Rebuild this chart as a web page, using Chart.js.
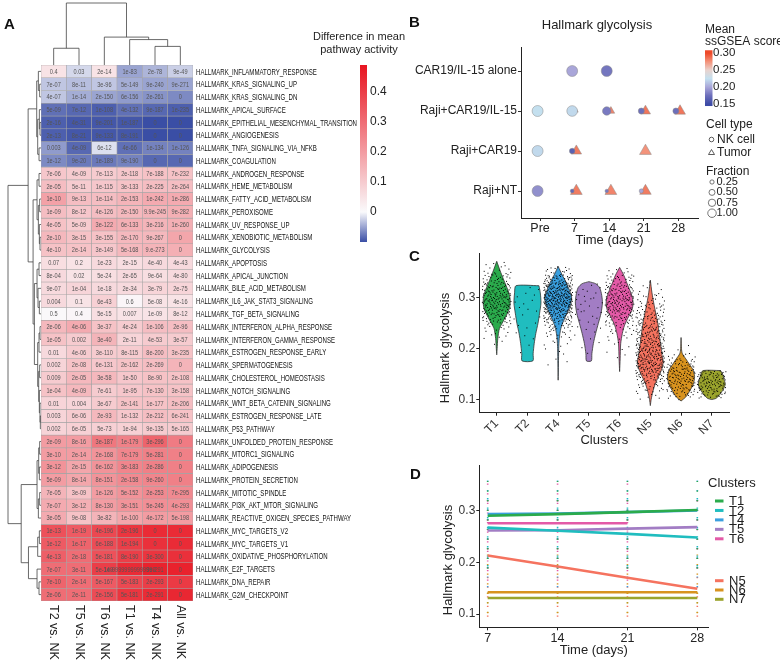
<!DOCTYPE html>
<html>
<head>
<meta charset="utf-8">
<script src="https://cdn.jsdelivr.net/npm/chart.js@4.4.1/dist/chart.umd.min.js"></script>
<style>
  html, body { margin: 0; padding: 0; background: #fff; }
  #wrap { position: relative; width: 780px; height: 660px; overflow: hidden; }
  canvas { position: absolute; }
</style>
</head>
<body>
<div id="wrap">
  <canvas id="chartA" width="410" height="660" style="left:0;top:0;width:410px;height:660px"></canvas>
  <canvas id="chartB" width="380" height="250" style="left:400px;top:0;width:380px;height:250px"></canvas>
  <canvas id="chartC" width="380" height="210" style="left:400px;top:245px;width:380px;height:210px"></canvas>
  <canvas id="chartD" width="380" height="205" style="left:400px;top:455px;width:380px;height:205px"></canvas>
</div>
<script>
const FONT = '"Liberation Sans", Arial, Helvetica, sans-serif';
Chart.defaults.font.family = FONT;
Chart.defaults.color = '#222';

// ---------- panel A data ----------
const pathways = [
  'HALLMARK_INFLAMMATORY_RESPONSE', 'HALLMARK_KRAS_SIGNALING_UP', 'HALLMARK_KRAS_SIGNALING_DN',
  'HALLMARK_APICAL_SURFACE', 'HALLMARK_EPITHELIAL_MESENCHYMAL_TRANSITION', 'HALLMARK_ANGIOGENESIS',
  'HALLMARK_TNFA_SIGNALING_VIA_NFKB', 'HALLMARK_COAGULATION', 'HALLMARK_ANDROGEN_RESPONSE',
  'HALLMARK_HEME_METABOLISM', 'HALLMARK_FATTY_ACID_METABOLISM', 'HALLMARK_PEROXISOME',
  'HALLMARK_UV_RESPONSE_UP', 'HALLMARK_XENOBIOTIC_METABOLISM', 'HALLMARK_GLYCOLYSIS',
  'HALLMARK_APOPTOSIS', 'HALLMARK_APICAL_JUNCTION', 'HALLMARK_BILE_ACID_METABOLISM',
  'HALLMARK_IL6_JAK_STAT3_SIGNALING', 'HALLMARK_TGF_BETA_SIGNALING', 'HALLMARK_INTERFERON_ALPHA_RESPONSE',
  'HALLMARK_INTERFERON_GAMMA_RESPONSE', 'HALLMARK_ESTROGEN_RESPONSE_EARLY', 'HALLMARK_SPERMATOGENESIS',
  'HALLMARK_CHOLESTEROL_HOMEOSTASIS', 'HALLMARK_NOTCH_SIGNALING', 'HALLMARK_WNT_BETA_CATENIN_SIGNALING',
  'HALLMARK_ESTROGEN_RESPONSE_LATE', 'HALLMARK_P53_PATHWAY', 'HALLMARK_UNFOLDED_PROTEIN_RESPONSE',
  'HALLMARK_MTORC1_SIGNALING', 'HALLMARK_ADIPOGENESIS', 'HALLMARK_PROTEIN_SECRETION',
  'HALLMARK_MITOTIC_SPINDLE', 'HALLMARK_PI3K_AKT_MTOR_SIGNALING', 'HALLMARK_REACTIVE_OXIGEN_SPECIES_PATHWAY',
  'HALLMARK_MYC_TARGETS_V2', 'HALLMARK_MYC_TARGETS_V1', 'HALLMARK_OXIDATIVE_PHOSPHORYLATION',
  'HALLMARK_E2F_TARGETS', 'HALLMARK_DNA_REPAIR', 'HALLMARK_G2M_CHECKPOINT'
];
const comparisons = ['T2 vs. NK', 'T5 vs. NK', 'T6 vs. NK', 'T1 vs. NK', 'T4 vs. NK', 'All vs. NK'];

// difference in mean pathway activity
const meanDiff = [
  [0.05, -0.02, 0.05, -0.05, -0.04, -0.025],
  [-0.03, -0.035, -0.03, -0.045, -0.05, -0.05],
  [-0.03, -0.045, -0.05, -0.055, -0.06, -0.065],
  [-0.08, -0.085, -0.09, -0.08, -0.085, -0.09],
  [-0.09, -0.095, -0.095, -0.095, -0.1, -0.1],
  [-0.09, -0.095, -0.095, -0.095, -0.1, -0.1],
  [-0.055, -0.085, -0.015, -0.08, -0.07, -0.07],
  [-0.065, -0.075, -0.075, -0.07, -0.085, -0.085],
  [0.11, 0.1, 0.1, 0.11, 0.12, 0.12],
  [0.13, 0.1, 0.11, 0.12, 0.13, 0.13],
  [0.19, 0.13, 0.13, 0.15, 0.17, 0.17],
  [0.13, 0.11, 0.13, 0.14, 0.15, 0.16],
  [0.12, 0.1, 0.17, 0.16, 0.15, 0.16],
  [0.14, 0.12, 0.12, 0.14, 0.14, 0.18],
  [0.12, 0.12, 0.11, 0.14, 0.15, 0.16],
  [0.06, 0.05, 0.07, 0.06, 0.07, 0.07],
  [0.07, 0.05, 0.06, 0.07, 0.06, 0.07],
  [0.07, 0.08, 0.07, 0.07, 0.08, 0.08],
  [0.07, 0.05, 0.09, 0.01, 0.05, 0.05],
  [0.005, 0.01, 0.06, 0.05, 0.05, 0.06],
  [0.14, 0.17, 0.12, 0.1, 0.13, 0.13],
  [0.12, 0.1, 0.15, 0.08, 0.1, 0.1],
  [0.07, 0.1, 0.1, 0.1, 0.13, 0.12],
  [0.08, 0.12, 0.11, 0.12, 0.13, 0.15],
  [0.1, 0.14, 0.14, 0.11, 0.12, 0.12],
  [0.12, 0.14, 0.1, 0.11, 0.12, 0.12],
  [0.08, 0.08, 0.1, 0.12, 0.12, 0.13],
  [0.08, 0.1, 0.14, 0.11, 0.13, 0.12],
  [0.08, 0.09, 0.09, 0.09, 0.1, 0.1],
  [0.2, 0.2, 0.28, 0.26, 0.32, 0.27],
  [0.2, 0.2, 0.22, 0.25, 0.26, 0.26],
  [0.22, 0.18, 0.22, 0.25, 0.26, 0.26],
  [0.2, 0.18, 0.22, 0.24, 0.25, 0.26],
  [0.15, 0.12, 0.2, 0.22, 0.24, 0.24],
  [0.17, 0.16, 0.2, 0.22, 0.23, 0.23],
  [0.17, 0.12, 0.15, 0.18, 0.2, 0.2],
  [0.36, 0.34, 0.38, 0.42, 0.44, 0.44],
  [0.34, 0.32, 0.37, 0.4, 0.43, 0.44],
  [0.33, 0.3, 0.36, 0.4, 0.42, 0.43],
  [0.3, 0.3, 0.4, 0.44, 0.46, 0.46],
  [0.32, 0.3, 0.34, 0.38, 0.4, 0.41],
  [0.3, 0.3, 0.37, 0.42, 0.44, 0.45]
];

// p-values printed in the cells
const pvalLabels = [
  ['0.4', '0.03', '2e-14', '1e-83', '2e-78', '9e-49'],
  ['7e-07', '8e-11', '3e-96', '5e-149', '9e-240', '9e-271'],
  ['4e-07', '1e-14', '2e-150', '6e-156', '2e-261', '0'],
  ['5e-09', '7e-12', '1e-108', '4e-132', '9e-187', '1e-235'],
  ['2e-16', '4e-31', '9e-201', '1e-187', '0', '0'],
  ['2e-13', '8e-21', '9e-133', '8e-191', '0', '0'],
  ['0.003', '4e-09', '6e-12', '4e-66', '1e-134', '1e-126'],
  ['1e-12', '9e-20', '1e-189', '9e-190', '0', '0'],
  ['7e-06', '4e-09', '7e-113', '2e-118', '7e-188', '7e-232'],
  ['2e-05', '5e-11', '1e-115', '3e-133', '2e-225', '2e-264'],
  ['1e-10', '9e-13', '1e-114', '2e-153', '1e-242', '1e-286'],
  ['1e-09', '8e-12', '4e-126', '2e-150', '9.9e-245', '9e-282'],
  ['4e-05', '5e-09', '3e-122', '6e-133', '3e-216', '1e-260'],
  ['2e-10', '3e-15', '3e-155', '2e-170', '9e-267', '0'],
  ['4e-10', '2e-14', '3e-149', '5e-168', '9.e-273', '0'],
  ['0.07', '0.2', '1e-23', '2e-15', '4e-40', '4e-43'],
  ['8e-04', '0.02', '5e-24', '2e-65', '9e-64', '4e-80'],
  ['9e-07', '1e-04', '1e-18', '2e-34', '3e-79', '2e-75'],
  ['0.004', '0.1', '6e-43', '0.6', '5e-08', '4e-16'],
  ['0.5', '0.4', '5e-15', '0.007', '1e-09', '8e-12'],
  ['2e-06', '4e-06', '3e-37', '4e-24', '1e-106', '2e-96'],
  ['1e-05', '0.002', '3e-40', '2e-11', '4e-53', '3e-57'],
  ['0.01', '4e-06', '3e-110', '8e-115', '8e-200', '3e-235'],
  ['0.002', '2e-08', '6e-131', '2e-162', '2e-269', '0'],
  ['0.009', '2e-05', '3e-58', '1e-50', '8e-90', '2e-108'],
  ['1e-04', '4e-09', '7e-61', '1e-95', '7e-130', '3e-158'],
  ['0.01', '0.004', '3e-67', '2e-141', '1e-177', '2e-206'],
  ['0.003', '6e-06', '2e-93', '1e-132', '2e-212', '6e-241'],
  ['0.002', '6e-05', '5e-73', '1e-94', '9e-135', '5e-165'],
  ['2e-09', '8e-16', '3e-187', '1e-179', '3e-296', '0'],
  ['3e-10', '2e-14', '2e-168', '7e-179', '5e-281', '0'],
  ['3e-12', '2e-15', '6e-162', '3e-183', '2e-286', '0'],
  ['5e-09', '8e-14', '8e-151', '2e-158', '9e-260', '0'],
  ['7e-05', '3e-09', '1e-126', '5e-152', '2e-253', '7e-295'],
  ['7e-07', '3e-12', '8e-130', '3e-151', '5e-245', '4e-293'],
  ['3e-05', '9e-08', '3e-82', '1e-100', '4e-172', '5e-198'],
  ['1e-13', '1e-19', '4e-196', '2e-196', '0', '0'],
  ['1e-12', '1e-17', '6e-188', '1e-194', '0', '0'],
  ['4e-13', '2e-18', '5e-181', '8e-190', '3e-300', '0'],
  ['7e-07', '3e-11', '5e-149', '1e-99999999999999', '9e-291', '0'],
  ['7e-10', '2e-14', '5e-167', '5e-183', '2e-293', '0'],
  ['2e-06', '2e-11', '2e-156', '5e-181', '2e-291', '0']
];

// dendrograms: [height, left, right], leaves are row / column indices
const rowTree = [1,
  [0.39,
    [0.13, [0.08, 0, [0.04, 1, 2]], [0.1, [0.05, 3, [0.03, 4, 5]], [0.06, 6, 7]]],
    [0.24,
      [0.12, [0.06, 8, 9], [0.08, [0.04, 10, 11], [0.05, 12, [0.03, 13, 14]]]],
      [0.2, [0.12, [0.06, 15, 16], [0.09, 17, [0.05, 18, 19]]],
            [0.1, [0.06, [0.03, 20, 21], 22], [0.07, [0.04, 23, 24], [0.05, 25, [0.03, 26, [0.02, 27, 28]]]]]]]],
  [0.6,
    [0.12, [0.07, [0.04, 29, 30], [0.05, 31, 32]], [0.08, [0.04, 33, 34], 35]],
    [0.38, [0.1, [0.05, 36, 37], 38], [0.12, 39, [0.06, 40, 41]]]]
];
const colTree = [1, [0.27, 0, 1], [0.45, 2, [0.41, 3, [0.3, 4, 5]]]];
const heatTicks = [0, 0.1, 0.2, 0.3, 0.4];

// ---------- panel B data ----------
const conditions = ['CAR19/IL-15 alone', 'Raji+CAR19/IL-15', 'Raji+CAR19', 'Raji+NT'];
const timepoints = ['Pre', '7', '14', '21', '28'];
// [condition, time, mean ssGSEA score, fraction]
const nkCells = [
  ['CAR19/IL-15 alone', '7', 0.20, 1.0], ['CAR19/IL-15 alone', '14', 0.178, 1.0],
  ['Raji+CAR19/IL-15', 'Pre', 0.225, 1.0], ['Raji+CAR19/IL-15', '7', 0.222, 0.95],
  ['Raji+CAR19/IL-15', '14', 0.18, 0.6], ['Raji+CAR19/IL-15', '21', 0.175, 0.3],
  ['Raji+CAR19/IL-15', '28', 0.175, 0.3],
  ['Raji+CAR19', 'Pre', 0.222, 1.0], ['Raji+CAR19', '7', 0.165, 0.25],
  ['Raji+NT', 'Pre', 0.19, 1.0], ['Raji+NT', '7', 0.17, 0.12],
  ['Raji+NT', '14', 0.18, 0.1], ['Raji+NT', '21', 0.2, 0.15]
];
const tumorCells = [
  ['Raji+CAR19/IL-15', '7', 0.27, 0.1], ['Raji+CAR19/IL-15', '14', 0.28, 0.4],
  ['Raji+CAR19/IL-15', '21', 0.285, 0.7], ['Raji+CAR19/IL-15', '28', 0.285, 0.8],
  ['Raji+CAR19', '7', 0.283, 0.75], ['Raji+CAR19', '21', 0.275, 0.95],
  ['Raji+NT', '7', 0.283, 0.95], ['Raji+NT', '14', 0.28, 0.95], ['Raji+NT', '21', 0.283, 0.9]
];
const scoreStops = [0.15, 0.175, 0.2, 0.225, 0.25, 0.275, 0.30];
const scoreColors = ['#3d4ba6', '#6d6fbb', '#a9a6d9', '#c4e0ef', '#e9d3ce', '#f3937b', '#ee4a2a'];
const scoreTicks = [0.30, 0.25, 0.20, 0.15];
const fractionTicks = [0.25, 0.5, 0.75, 1.0];

// ---------- panels C and D data ----------
const clusters = ['T1', 'T2', 'T4', 'T5', 'T6', 'N5', 'N6', 'N7'];
const clusterColors = ['#2bab4c', '#20bdbf', '#3a9fde', '#a27dc4', '#e35aa7', '#f5735f', '#d8931f', '#9ba42d'];
const cellCounts = [240, 22, 420, 36, 230, 420, 160, 120];
// violin outlines: [hallmark glycolysis, relative half width]
const violinT1 = [[0.372, 0], [0.35, 0.3], [0.33, 0.6], [0.31, 0.9], [0.295, 1], [0.28, 0.95], [0.265, 0.7], [0.25, 0.4], [0.24, 0.2], [0.22, 0.08], [0.2, 0.03], [0.188, 0]];
const violinT2 = [[0.324, 0.85], [0.31, 0.95], [0.29, 1], [0.27, 0.9], [0.25, 0.78], [0.23, 0.62], [0.21, 0.5], [0.19, 0.42], [0.176, 0.4]];
const violinT4 = [[0.362, 0], [0.345, 0.3], [0.33, 0.6], [0.31, 0.9], [0.3, 1], [0.285, 0.9], [0.27, 0.65], [0.255, 0.4], [0.24, 0.2], [0.22, 0.08], [0.2, 0.04], [0.17, 0.02], [0.138, 0]];
const violinT5 = [[0.332, 0], [0.328, 0.5], [0.32, 0.8], [0.305, 0.95], [0.29, 1], [0.27, 0.9], [0.25, 0.7], [0.23, 0.5], [0.21, 0.33], [0.19, 0.22], [0.176, 0.18]];
const violinT6 = [[0.36, 0], [0.345, 0.3], [0.325, 0.6], [0.305, 0.9], [0.29, 1], [0.275, 0.9], [0.26, 0.6], [0.245, 0.35], [0.23, 0.2], [0.21, 0.08], [0.18, 0.04], [0.155, 0]];
const violinN5 = [[0.335, 0], [0.31, 0.12], [0.29, 0.25], [0.27, 0.4], [0.25, 0.55], [0.23, 0.65], [0.21, 0.75], [0.19, 0.85], [0.175, 0.95], [0.16, 0.85], [0.145, 0.6], [0.13, 0.35], [0.115, 0.18], [0.1, 0.06], [0.088, 0]];
const violinN6 = [[0.222, 0], [0.2, 0.03], [0.19, 0.1], [0.18, 0.35], [0.17, 0.6], [0.16, 0.85], [0.145, 1], [0.13, 0.9], [0.115, 0.6], [0.105, 0.35], [0.097, 0]];
const violinN7 = [[0.157, 0.65], [0.15, 0.8], [0.14, 0.9], [0.13, 1], [0.12, 0.85], [0.11, 0.6], [0.102, 0.3], [0.1, 0]];
const violins = [violinT1, violinT2, violinT4, violinT5, violinT6, violinN5, violinN6, violinN7];

const days = [7, 14, 21, 28];
const trendT1 = [0.290, 0.293, 0.297, 0.301];
const trendT2 = [0.267, 0.261, 0.255, 0.248];
const trendT4 = [0.293, 0.294, 0.297, 0.300];
const trendT5 = [0.2615, 0.262, 0.265, 0.268];
const trendT6 = [0.2755, 0.2755, 0.2755, null];
const trendN5 = [0.213, 0.192, 0.170, 0.149];
const trendN6 = [0.142, 0.142, 0.142, 0.142];
const trendN7 = [0.131, 0.131, 0.131, 0.131];
const trends = [trendT1, trendT2, trendT4, trendT5, trendT6, trendN5, trendN6, trendN7];

// ---------- helpers ----------
function mixRgb(a, b, t) {
  return 'rgb(' + a.map((c, i) => Math.round(c + (b[i] - c) * t)).join(',') + ')';
}
function heatColor(v) {
  if (v >= 0) return mixRgb([250, 250, 252], [232, 20, 32], Math.min(v / 0.49, 1));
  return mixRgb([250, 250, 252], [58, 78, 165], Math.min(-v / 0.1, 1));
}
function hexRgb(h) { return [1, 3, 5].map(i => parseInt(h.slice(i, i + 2), 16)); }
function scoreColor(s) {
  if (s <= scoreStops[0]) return scoreColors[0];
  for (let i = 1; i < scoreStops.length; i++) {
    if (s <= scoreStops[i]) {
      const t = (s - scoreStops[i - 1]) / (scoreStops[i] - scoreStops[i - 1]);
      return mixRgb(hexRgb(scoreColors[i - 1]), hexRgb(scoreColors[i]), t);
    }
  }
  return scoreColors[scoreColors.length - 1];
}
function panelLetter(ctx, letter, x, y) {
  ctx.save();
  ctx.font = 'bold 15px ' + FONT;
  ctx.fillStyle = '#111';
  ctx.textAlign = 'left';
  ctx.textBaseline = 'middle';
  ctx.fillText(letter, x, y);
  ctx.restore();
}
function vText(ctx, text, x, y, font) {
  ctx.save();
  ctx.font = font;
  ctx.translate(x, y);
  ctx.rotate(-Math.PI / 2);
  ctx.textAlign = 'center';
  ctx.textBaseline = 'middle';
  ctx.fillText(text, 0, 0);
  ctx.restore();
}

// ---------- panel A ----------
function drawTree(ctx, node, leafPos, heightPos, alongX) {
  if (typeof node === 'number') return [leafPos(node), heightPos(0)];
  const [h, a, b] = node;
  const A = drawTree(ctx, a, leafPos, heightPos, alongX);
  const B = drawTree(ctx, b, leafPos, heightPos, alongX);
  const hp = heightPos(h);
  ctx.beginPath();
  if (alongX) {
    ctx.moveTo(A[1], A[0]); ctx.lineTo(hp, A[0]); ctx.lineTo(hp, B[0]); ctx.lineTo(B[1], B[0]);
  } else {
    ctx.moveTo(A[0], A[1]); ctx.lineTo(A[0], hp); ctx.lineTo(B[0], hp); ctx.lineTo(B[0], B[1]);
  }
  ctx.stroke();
  return [(A[0] + B[0]) / 2, hp];
}

const heatDecor = {
  id: 'heatDecor',
  afterDatasetsDraw(chart) {
    const { ctx, chartArea: area, scales } = chart;
    ctx.save();

    // p-values in the cells
    ctx.fillStyle = '#555';
    ctx.font = '7px ' + FONT;
    ctx.textAlign = 'center';
    ctx.textBaseline = 'middle';
    pathways.forEach((p, r) => {
      chart.getDatasetMeta(r).data.forEach((el, c) => {
        ctx.save();
        ctx.translate(el.x, (el.y + el.base) / 2 + 0.5);
        ctx.scale(0.8, 1);
        ctx.fillText(pvalLabels[r][c], 0, 0);
        ctx.restore();
      });
    });

    // pathway names (condensed)
    ctx.fillStyle = '#111';
    ctx.font = '9.5px ' + FONT;
    ctx.textAlign = 'left';
    const longest = Math.max(...pathways.map(p => ctx.measureText(p).width));
    const k = 161 / longest;
    pathways.forEach((p, r) => {
      ctx.save();
      ctx.translate(area.right + 3, scales.y.getPixelForValue(r + 0.5) + 0.5);
      ctx.scale(k, 1);
      ctx.fillText(p, 0, 0);
      ctx.restore();
    });

    // comparison names
    ctx.font = '12.5px ' + FONT;
    ctx.fillStyle = '#222';
    comparisons.forEach((c, i) => {
      ctx.save();
      ctx.translate(scales.x.getPixelForValue(i), area.bottom + 4);
      ctx.rotate(Math.PI / 2);
      ctx.textAlign = 'left';
      ctx.fillText(c, 0, 0);
      ctx.restore();
    });

    // dendrograms
    ctx.strokeStyle = '#444';
    ctx.lineWidth = 0.8;
    drawTree(ctx, rowTree, r => scales.y.getPixelForValue(r + 0.5), h => area.left - h * 33, true);
    drawTree(ctx, colTree, c => scales.x.getPixelForValue(c), h => area.top - h * 62, false);

    // colour legend
    ctx.fillStyle = '#222';
    ctx.font = '11px ' + FONT;
    ctx.textAlign = 'center';
    ctx.fillText('Difference in mean', 359, 37);
    ctx.fillText('pathway activity', 359, 50);
    const yOf = v => 212 - v * 300;
    const grad = ctx.createLinearGradient(0, yOf(0.49), 0, yOf(-0.1));
    [0.49, 0.4, 0.3, 0.2, 0.1, 0, -0.05, -0.1].forEach(v => grad.addColorStop((0.49 - v) / 0.59, heatColor(v)));
    ctx.fillStyle = grad;
    ctx.fillRect(360, yOf(0.49), 7, yOf(-0.1) - yOf(0.49));
    ctx.fillStyle = '#222';
    ctx.font = '12px ' + FONT;
    ctx.textAlign = 'left';
    heatTicks.forEach(v => ctx.fillText(v === 0 ? '0' : v.toFixed(1), 370, yOf(v)));

    ctx.restore();
    panelLetter(ctx, 'A', 4, 25);
  }
};

new Chart(document.getElementById('chartA'), {
  type: 'bar',
  data: {
    labels: comparisons,
    datasets: pathways.map((p, r) => ({
      label: p,
      data: comparisons.map(() => 1),
      backgroundColor: meanDiff[r].map(heatColor),
      borderColor: '#a5a5a5',
      borderWidth: 0.6,
      borderSkipped: false,
      barPercentage: 1,
      categoryPercentage: 1
    }))
  },
  options: {
    responsive: false,
    animation: false,
    layout: { padding: { left: 41, right: 217, top: 65, bottom: 59 } },
    plugins: { legend: { display: false }, tooltip: { enabled: false } },
    scales: {
      x: { display: false, stacked: true },
      y: { display: false, stacked: true, min: 0, max: pathways.length, reverse: true }
    }
  },
  plugins: [heatDecor]
});

// ---------- panel B ----------
const fracRadius = f => 5.3 * Math.sqrt(f);
const bubbleDecor = {
  id: 'bubbleDecor',
  afterDraw(chart) {
    const ctx = chart.ctx;
    ctx.save();
    ctx.fillStyle = '#222';
    ctx.textBaseline = 'middle';
    ctx.textAlign = 'center';
    ctx.font = '13px ' + FONT;
    ctx.fillText('Hallmark glycolysis', 197, 25);

    ctx.textAlign = 'left';
    ctx.font = '12px ' + FONT;
    ctx.fillText('Mean', 305, 30);
    ctx.fillText('ssGSEA score', 305, 42);
    const yOf = s => 53.3 + (0.30 - s) / 0.05 * 16.9;
    const grad = ctx.createLinearGradient(0, yOf(0.309), 0, yOf(0.144));
    scoreStops.forEach((s, i) => grad.addColorStop((0.309 - s) / 0.165, scoreColors[i]));
    ctx.fillStyle = grad;
    ctx.fillRect(305, yOf(0.309), 7.5, yOf(0.144) - yOf(0.309));
    ctx.fillStyle = '#222';
    ctx.font = '11.5px ' + FONT;
    scoreTicks.forEach(s => ctx.fillText(s.toFixed(2), 313, yOf(s)));

    ctx.font = '12px ' + FONT;
    ctx.fillText('Cell type', 306, 125);
    ctx.strokeStyle = '#333';
    ctx.lineWidth = 0.8;
    ctx.beginPath(); ctx.arc(311.5, 139.5, 2.3, 0, Math.PI * 2); ctx.stroke();
    ctx.beginPath(); ctx.moveTo(311.5, 149.5); ctx.lineTo(314.5, 154.5); ctx.lineTo(308.5, 154.5); ctx.closePath(); ctx.stroke();
    ctx.fillText('NK cell', 317, 139.5);
    ctx.fillText('Tumor', 317, 152.5);

    ctx.fillText('Fraction', 306, 171.5);
    ctx.font = '11px ' + FONT;
    ctx.strokeStyle = '#555';
    fractionTicks.forEach((f, i) => {
      const y = 182 + i * 10.4;
      ctx.beginPath(); ctx.arc(312, y, fracRadius(f) * 0.8, 0, Math.PI * 2); ctx.stroke();
      ctx.fillText(f.toFixed(2), 316.5, y);
    });
    ctx.restore();
    panelLetter(ctx, 'B', 9, 23);
  }
};

const toBubble = (rows, dodge, scale) => rows.map(([cond, time, score, frac]) => ({
  x: timepoints.indexOf(time) + dodge,
  y: conditions.indexOf(cond),
  r: scale * Math.sqrt(frac),
  s: score
}));

new Chart(document.getElementById('chartB'), {
  type: 'bubble',
  data: {
    datasets: [
      {
        label: 'NK cell',
        data: toBubble(nkCells, -0.07, 5.5),
        pointStyle: 'circle',
        backgroundColor: c => scoreColor(c.raw.s),
        borderColor: '#888',
        borderWidth: 0.5
      },
      {
        label: 'Tumor',
        data: toBubble(tumorCells, 0.05, 7),
        pointStyle: 'triangle',
        backgroundColor: c => scoreColor(c.raw.s),
        borderColor: '#888',
        borderWidth: 0.5
      }
    ]
  },
  options: {
    responsive: false,
    animation: false,
    layout: { padding: { left: 0, right: 82, top: 47, bottom: 0 } },
    plugins: { legend: { display: false }, tooltip: { enabled: false } },
    scales: {
      x: {
        type: 'linear', min: -0.55, max: 4.57,
        afterBuildTicks: s => { s.ticks = timepoints.map((t, i) => ({ value: i })); },
        afterFit: s => { s.height = 32; },
        ticks: { callback: v => timepoints[v], font: { size: 12.5 }, color: '#222', padding: 0, maxRotation: 0 },
        grid: { display: true, drawOnChartArea: false, drawTicks: true, tickLength: 3, color: '#333' },
        border: { display: true, color: '#222', width: 1 },
        title: { display: true, text: 'Time (days)', font: { size: 13 }, color: '#222', padding: { top: 0, bottom: 2 } }
      },
      y: {
        type: 'linear', min: -0.6, max: 3.675, reverse: true,
        afterBuildTicks: s => { s.ticks = conditions.map((c, i) => ({ value: i })); },
        afterFit: s => { s.width = 121; },
        ticks: { callback: v => conditions[v], font: { size: 12 }, color: '#222', padding: 1 },
        grid: { display: true, drawOnChartArea: false, drawTicks: true, tickLength: 3, color: '#333' },
        border: { display: true, color: '#222', width: 1 }
      }
    }
  },
  plugins: [bubbleDecor]
});

// ---------- panel C ----------
const HALF = 0.44;
function halton(i, b) {
  let f = 1, r = 0;
  while (i > 0) { f /= b; r += f * (i % b); i = Math.floor(i / b); }
  return r;
}
function sampleLevel(profile, u) {
  const w = [];
  let total = 0;
  for (let i = 1; i < profile.length; i++) {
    const m = (profile[i - 1][1] + profile[i][1]) / 2 * (profile[i - 1][0] - profile[i][0]);
    w.push(m); total += m;
  }
  let acc = 0;
  for (let i = 0; i < w.length; i++) {
    if (acc + w[i] >= u * total) {
      const t = (u * total - acc) / w[i];
      return profile[i][0] + (profile[i + 1][0] - profile[i][0]) * t;
    }
    acc += w[i];
  }
  return profile[profile.length - 1][0];
}

const violinDecor = {
  id: 'violinDecor',
  afterDatasetsDraw(chart) {
    const { ctx, scales } = chart;
    ctx.save();
    // cells as a stipple texture following the violin density
    ctx.fillStyle = '#000';
    violins.forEach((profile, ci) => {
      for (let k = 1; k <= cellCounts[ci]; k++) {
        const v = sampleLevel(profile, halton(k, 2));
        const dx = (halton(k, 3) * 2 - 1) * 0.47;
        const px = scales.x.getPixelForValue(ci + dx);
        const py = scales.y.getPixelForValue(v);
        ctx.fillRect(px - 0.5, py - 0.5, 1, 1);
      }
    });
    ctx.fillStyle = '#222';
    vText(ctx, 'Hallmark glycolysis', 45, 103, '13px ' + FONT);
    ctx.restore();
    panelLetter(ctx, 'C', 9, 12);
  }
};

new Chart(document.getElementById('chartC'), {
  type: 'scatter',
  data: {
    datasets: violins.map((profile, ci) => {
      const right = profile.map(([v, w]) => ({ x: ci + w * HALF, y: v }));
      const left = profile.slice().reverse().map(([v, w]) => ({ x: ci - w * HALF, y: v }));
      return {
        label: clusters[ci],
        data: right.concat(left, [right[0]]),
        showLine: true,
        fill: 'shape',
        tension: 0.25,
        pointRadius: 0,
        backgroundColor: clusterColors[ci],
        borderColor: '#333',
        borderWidth: 0.8
      };
    })
  },
  options: {
    responsive: false,
    animation: false,
    layout: { padding: { left: 35, right: 50.7, top: 5, bottom: 0 } },
    plugins: { legend: { display: false }, tooltip: { enabled: false } },
    scales: {
      x: {
        type: 'linear', min: -0.567, max: 7.57,
        afterBuildTicks: s => { s.ticks = clusters.map((c, i) => ({ value: i })); },
        afterFit: s => { s.height = 42.3; },
        ticks: { callback: v => clusters[v], font: { size: 12 }, color: '#333', padding: 1, minRotation: 45, maxRotation: 45 },
        grid: { display: true, drawOnChartArea: false, drawTicks: true, tickLength: 3, color: '#222' },
        border: { display: true, color: '#222', width: 1 },
        title: { display: true, text: 'Clusters', font: { size: 13 }, color: '#222', padding: { top: 0, bottom: 7 } }
      },
      y: {
        type: 'linear', min: 0.074, max: 0.388,
        afterBuildTicks: s => { s.ticks = [0.1, 0.2, 0.3].map(v => ({ value: v })); },
        afterFit: s => { s.width = 44.3; },
        ticks: { callback: v => v.toFixed(1), font: { size: 12 }, color: '#333', padding: 1 },
        grid: { display: true, drawOnChartArea: false, drawTicks: true, tickLength: 3, color: '#222' },
        border: { display: true, color: '#222', width: 1 }
      }
    }
  },
  plugins: [violinDecor]
});

// ---------- panel D ----------
const trendDecor = {
  id: 'trendDecor',
  afterDraw(chart) {
    const ctx = chart.ctx;
    ctx.save();
    ctx.fillStyle = '#222';
    vText(ctx, 'Hallmark glycolysis', 48, 105, '13px ' + FONT);
    ctx.textAlign = 'left';
    ctx.textBaseline = 'middle';
    ctx.font = '13px ' + FONT;
    ctx.fillText('Clusters', 308, 28);
    clusters.forEach((c, i) => {
      const y = i < 5 ? 46 + i * 9.45 : 125.7 + (i - 5) * 9.3;
      ctx.fillStyle = clusterColors[i];
      ctx.fillRect(315, y - 1.5, 8.5, 3);
      ctx.fillStyle = '#222';
      ctx.fillText(c, 329, y + 0.5);
    });
    ctx.restore();
    panelLetter(ctx, 'D', 10, 20);
  }
};

const lineSets = trends.map((vals, ci) => ({
  label: clusters[ci],
  data: days.map((d, j) => ({ x: d, y: vals[j] })),
  borderColor: clusterColors[ci],
  borderWidth: 2.6,
  pointRadius: 0,
  fill: false,
  spanGaps: false
}));
const stripSets = [];
clusters.forEach((c, ci) => {
  days.forEach((d, j) => {
    if (trends[ci][j] === null) return;
    const prof = violins[ci];
    stripSets.push({
      label: c + ' cells day ' + d,
      data: [{ x: d, y: prof[prof.length - 1][0] }, { x: d, y: prof[0][0] }],
      borderColor: clusterColors[ci],
      borderWidth: 1.6,
      borderDash: [1.2, 8.4],
      borderDashOffset: ci * 1.2,
      pointRadius: 0,
      fill: false
    });
  });
});

new Chart(document.getElementById('chartD'), {
  type: 'line',
  data: { datasets: lineSets.concat(stripSets) },
  options: {
    responsive: false,
    animation: false,
    layout: { padding: { left: 38, right: 71.7, top: 10, bottom: 0 } },
    plugins: { legend: { display: false }, tooltip: { enabled: false } },
    scales: {
      x: {
        type: 'linear', min: 6.16, max: 29.1,
        afterBuildTicks: s => { s.ticks = days.map(v => ({ value: v })); },
        afterFit: s => { s.height = 32.7; },
        ticks: { font: { size: 12.5 }, color: '#222', padding: 1, maxRotation: 0 },
        grid: { display: true, drawOnChartArea: false, drawTicks: true, tickLength: 3, color: '#222' },
        border: { display: true, color: '#222', width: 1 },
        title: { display: true, text: 'Time (days)', font: { size: 13 }, color: '#222', padding: { top: 0, bottom: 2 } }
      },
      y: {
        type: 'linear', min: 0.0744, max: 0.388,
        afterBuildTicks: s => { s.ticks = [0.1, 0.2, 0.3].map(v => ({ value: v })); },
        afterFit: s => { s.width = 41.3; },
        ticks: { callback: v => v.toFixed(1), font: { size: 12 }, color: '#333', padding: 1 },
        grid: { display: true, drawOnChartArea: false, drawTicks: true, tickLength: 3, color: '#222' },
        border: { display: true, color: '#222', width: 1 }
      }
    }
  },
  plugins: [trendDecor]
});
</script>
</body>
</html>
